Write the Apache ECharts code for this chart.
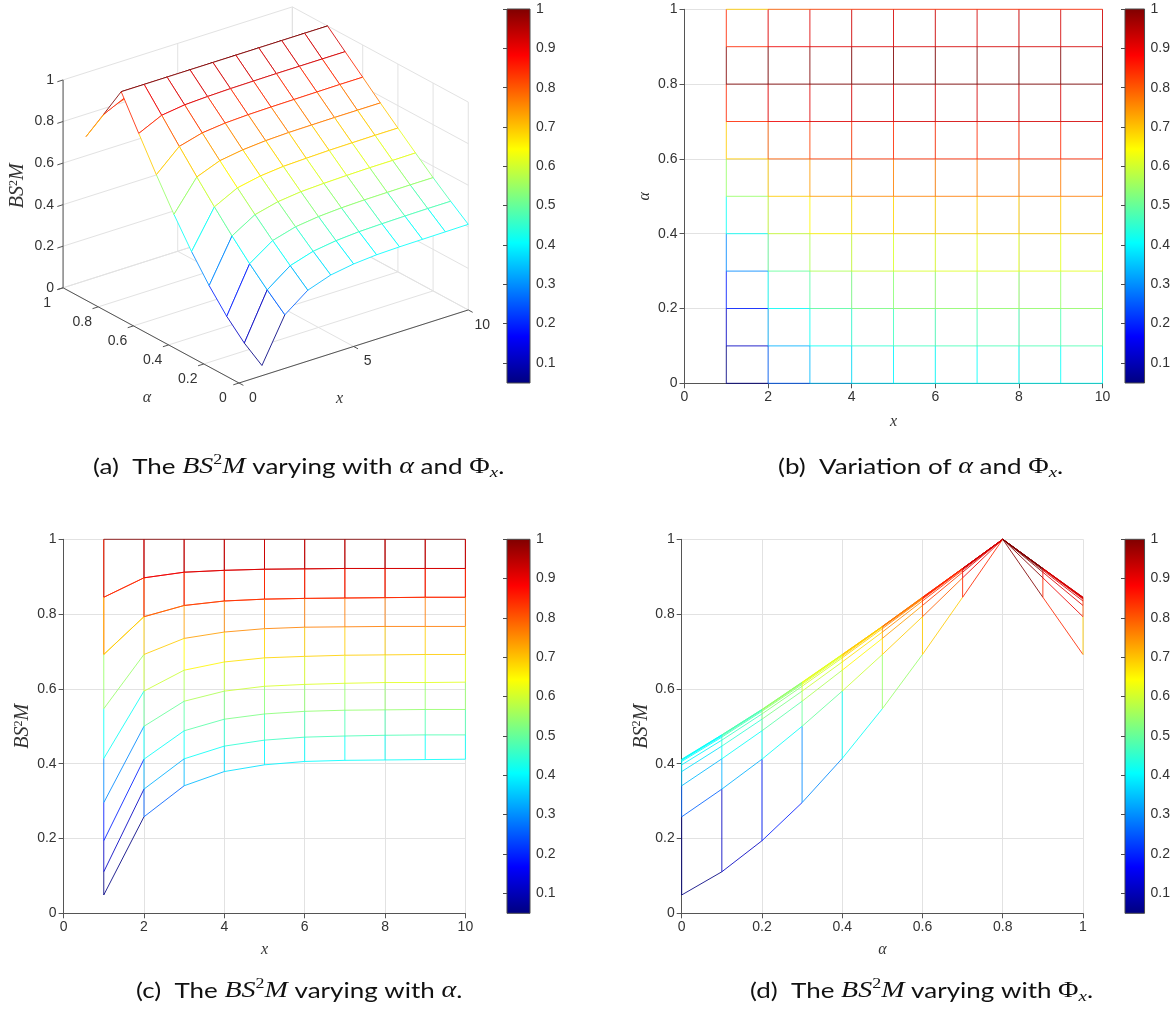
<!DOCTYPE html>
<html>
<head>
<meta charset="utf-8">
<script src="https://cdn.jsdelivr.net/npm/echarts@6/dist/echarts.min.js"></script>
<style>
html, body { margin: 0; padding: 0; background: #fff; }
#main { width: 1173px; height: 1012px; }
</style>
</head>
<body>
<div id="main"></div>
<script>
// 网格节点
var xValues = [1, 2, 3, 4, 5, 6, 7, 8, 9, 10];
var alphaValues = [0, 0.1, 0.2, 0.3, 0.4, 0.5, 0.6, 0.7, 0.8, 0.9, 1];

// BS2M, 每一行对应一个 alpha
var bsmAlpha00 = [0.049, 0.258, 0.341, 0.379, 0.397, 0.406, 0.409, 0.410, 0.411, 0.412];
var bsmAlpha01 = [0.111, 0.332, 0.413, 0.447, 0.463, 0.471, 0.474, 0.476, 0.477, 0.477];
var bsmAlpha02 = [0.194, 0.412, 0.488, 0.519, 0.533, 0.540, 0.543, 0.544, 0.545, 0.545];
var bsmAlpha03 = [0.296, 0.500, 0.567, 0.594, 0.607, 0.612, 0.615, 0.617, 0.617, 0.618];
var bsmAlpha04 = [0.414, 0.594, 0.650, 0.672, 0.683, 0.687, 0.690, 0.691, 0.692, 0.692];
var bsmAlpha05 = [0.547, 0.692, 0.735, 0.752, 0.761, 0.765, 0.766, 0.767, 0.767, 0.767];
var bsmAlpha06 = [0.692, 0.793, 0.823, 0.835, 0.840, 0.842, 0.843, 0.844, 0.845, 0.845];
var bsmAlpha07 = [0.845, 0.897, 0.912, 0.917, 0.920, 0.921, 0.922, 0.922, 0.922, 0.922];
var bsmAlpha08 = [1, 1, 1, 1, 1, 1, 1, 1, 1, 1];
var bsmAlpha09 = [0.845, 0.897, 0.912, 0.917, 0.920, 0.921, 0.922, 0.922, 0.922, 0.922];
var bsmAlpha10 = [0.692, 0.793, 0.823, 0.835, 0.840, 0.842, 0.843, 0.844, 0.845, 0.845];

// 刻度
var colorbarTicks = [0.1, 0.2, 0.3, 0.4, 0.5, 0.6, 0.7, 0.8, 0.9, 1];
var ticks3dX = [0, 5, 10];
var ticks3dAlpha = [0, 0.2, 0.4, 0.6, 0.8, 1];
var ticks3dZ = [0, 0.2, 0.4, 0.6, 0.8, 1];

var zGrid = [bsmAlpha00, bsmAlpha01, bsmAlpha02, bsmAlpha03, bsmAlpha04, bsmAlpha05,
             bsmAlpha06, bsmAlpha07, bsmAlpha08, bsmAlpha09, bsmAlpha10];

var allZ = [].concat.apply([], zGrid);
var cMin = Math.min.apply(null, allZ);
var cMax = Math.max.apply(null, allZ);

var textColor = '#333';
var axisColor = '#555';
var gridColor = '#e2e2e2';
var tickFont = 'Liberation Sans';
var mathFont = 'Liberation Serif';
var meshOpacity = 0.85;

// jet 颜色映射
function clamp01(v) { return Math.max(0, Math.min(1, v)); }
function jet(v) {
  var t = clamp01((v - cMin) / (cMax - cMin));
  var r = clamp01(1.5 - Math.abs(4 * t - 3));
  var g = clamp01(1.5 - Math.abs(4 * t - 2));
  var b = clamp01(1.5 - Math.abs(4 * t - 1));
  return 'rgb(' + Math.round(r * 255) + ',' + Math.round(g * 255) + ',' + Math.round(b * 255) + ')';
}
var jetStops = [
  { offset: 0, color: '#00007f' },
  { offset: 0.125, color: '#0000ff' },
  { offset: 0.375, color: '#00ffff' },
  { offset: 0.625, color: '#ffff00' },
  { offset: 0.875, color: '#ff0000' },
  { offset: 1, color: '#7f0000' },
];

// ---------- (a) 三维投影 ----------
var az = 37.5 * Math.PI / 180;
var el = 30 * Math.PI / 180;
var xRange = 10;
function proj(x, a, z) {
  var X = x / xRange, A = a, Z = z;
  return [
    Math.cos(az) * X - Math.sin(az) * A,
    Math.sin(el) * (Math.sin(az) * X + Math.cos(az) * A) + Math.cos(el) * Z,
  ];
}
function closeness(x, a, z) {
  return -Math.sin(az) * Math.cos(el) * (x / xRange) - Math.cos(az) * Math.cos(el) * a + Math.sin(el) * z;
}
// 投影平面在画布上的位置
var originPx = [239, 383];
var pxPerU = 289, pxPerV = 240;
var uMin = -0.8, uMax = 0.9, vMin = -0.15, vMax = 1.58;

// 背景网格线 & 坐标轴
var gridSegs = [];
ticks3dX.forEach(function(x) {
  gridSegs.push([[x, 0, 0], [x, 1, 0]]);
  gridSegs.push([[x, 1, 0], [x, 1, 1]]);
});
ticks3dAlpha.forEach(function(a) {
  gridSegs.push([[0, a, 0], [10, a, 0]]);
  gridSegs.push([[10, a, 0], [10, a, 1]]);
});
ticks3dZ.forEach(function(z) {
  gridSegs.push([[0, 1, z], [10, 1, z]]);
  gridSegs.push([[10, 0, z], [10, 1, z]]);
});

var tickLen = 0.025;
var axisSegs = [
  [[0, 1, 0], [0, 1, 1]],
  [[0, 0, 0], [0, 1, 0]],
  [[0, 0, 0], [10, 0, 0]],
];
ticks3dZ.forEach(function(z) { axisSegs.push([[0, 1, z], [-tickLen * xRange, 1, z]]); });
ticks3dAlpha.forEach(function(a) { axisSegs.push([[0, a, 0], [-tickLen * xRange, a, 0]]); });
ticks3dX.forEach(function(x) { axisSegs.push([[x, 0, 0], [x, -tickLen, 0]]); });

var labels3d = [];
ticks3dZ.forEach(function(z) { labels3d.push({ p: [0, 1, z], text: String(z), dx: -9, dy: 0, align: 'right' }); });
ticks3dAlpha.forEach(function(a) { labels3d.push({ p: [0, a, 0], text: String(a), dx: -16, dy: 15, align: 'center' }); });
ticks3dX.forEach(function(x) { labels3d.push({ p: [x, 0, 0], text: String(x), dx: 14, dy: 15, align: 'center' }); });
labels3d.push({ p: [0, 0.5, 0], text: '{i|α}', dx: -4, dy: 62, align: 'center', math: true });
labels3d.push({ p: [5, 0, 0], text: '{i|x}', dx: -14, dy: 52, align: 'center', math: true });
labels3d.push({ p: [0, 1, 0.5], text: '{b|BS}{s|2}{b|M}', dx: -45, dy: 2, align: 'center', math: true, rotate: true });

// 曲面四边形, 从远到近排序
var quads = [];
for (var i = 0; i < alphaValues.length - 1; i++) {
  for (var j = 0; j < xValues.length - 1; j++) {
    var c = (closeness(xValues[j], alphaValues[i], zGrid[i][j]) +
             closeness(xValues[j + 1], alphaValues[i], zGrid[i][j + 1]) +
             closeness(xValues[j + 1], alphaValues[i + 1], zGrid[i + 1][j + 1]) +
             closeness(xValues[j], alphaValues[i + 1], zGrid[i + 1][j])) / 4;
    var pc = proj((xValues[j] + xValues[j + 1]) / 2, (alphaValues[i] + alphaValues[i + 1]) / 2, zGrid[i][j]);
    quads.push({ i: i, j: j, c: c, u: pc[0], v: pc[1] });
  }
}
quads.sort(function(a, b) { return a.c - b.c; });

function segData(segs) {
  return segs.map(function(s, k) {
    var p = proj(s[0][0], s[0][1], s[0][2]);
    return [p[0], p[1], k];
  });
}
function segRender(segs, color, width) {
  return function(params, api) {
    var s = segs[api.value(2)];
    var p1 = api.coord(proj(s[0][0], s[0][1], s[0][2]));
    var p2 = api.coord(proj(s[1][0], s[1][1], s[1][2]));
    return {
      type: 'line',
      shape: { x1: p1[0], y1: p1[1], x2: p2[0], y2: p2[1] },
      style: { stroke: color, lineWidth: width },
    };
  };
}
function nodePx(api, i, j) {
  return api.coord(proj(xValues[j], alphaValues[i], zGrid[i][j]));
}
function quadRender(params, api) {
  var i = api.value(2), j = api.value(3);
  var a = nodePx(api, i, j), b = nodePx(api, i, j + 1);
  var cc = nodePx(api, i + 1, j + 1), d = nodePx(api, i + 1, j);
  function edge(p, q, v) {
    return { type: 'line', z2: params.dataIndex, shape: { x1: p[0], y1: p[1], x2: q[0], y2: q[1] },
             style: { stroke: jet(v), lineWidth: 1, opacity: meshOpacity } };
  }
  return {
    type: 'group',
    children: [
      { type: 'polygon', z2: params.dataIndex, shape: { points: [a, b, cc, d] }, style: { fill: '#fff', stroke: null } },
      edge(a, b, zGrid[i][j]),
      edge(a, d, zGrid[i][j]),
      edge(d, cc, zGrid[i + 1][j]),
      edge(b, cc, zGrid[i][j + 1]),
    ],
  };
}
var mathRich = {
  i: { fontFamily: mathFont, fontStyle: 'italic', fontSize: 16, color: textColor },
  b: { fontFamily: mathFont, fontStyle: 'italic', fontSize: 20, color: textColor },
  s: { fontFamily: mathFont, fontSize: 12, color: textColor, verticalAlign: 'top' },
};
function labelRender(params, api) {
  var l = labels3d[api.value(2)];
  var p = api.coord(proj(l.p[0], l.p[1], l.p[2]));
  var style = {
    text: l.text,
    fill: textColor,
    align: l.align,
    verticalAlign: 'middle',
  };
  if (l.math) {
    style.rich = mathRich;
  } else {
    style.font = '14px "' + tickFont + '"';
  }
  return {
    type: 'text',
    x: p[0] + l.dx,
    y: p[1] + l.dy,
    rotation: l.rotate ? Math.PI / 2 : 0,
    style: style,
  };
}

// ---------- 二维面板的线段 ----------
var segsB = [], segsC = [], segsD = [];
for (var i = 0; i < alphaValues.length; i++) {
  for (var j = 0; j < xValues.length; j++) {
    if (j < xValues.length - 1) segsB.push([xValues[j], alphaValues[i], xValues[j + 1], alphaValues[i], zGrid[i][j]]);
    if (i < alphaValues.length - 1) segsB.push([xValues[j], alphaValues[i], xValues[j], alphaValues[i + 1], zGrid[i][j]]);
  }
}
for (var i = alphaValues.length - 1; i >= 0; i--) {
  for (var j = 0; j < xValues.length; j++) {
    if (i < alphaValues.length - 1) segsC.push([xValues[j], zGrid[i][j], xValues[j], zGrid[i + 1][j], zGrid[i][j]]);
    if (j < xValues.length - 1) segsC.push([xValues[j], zGrid[i][j], xValues[j + 1], zGrid[i][j + 1], zGrid[i][j]]);
  }
}
for (var j = 0; j < xValues.length; j++) {
  for (var i = 0; i < alphaValues.length; i++) {
    if (j < xValues.length - 1) segsD.push([alphaValues[i], zGrid[i][j], alphaValues[i], zGrid[i][j + 1], zGrid[i][j]]);
    if (i < alphaValues.length - 1) segsD.push([alphaValues[i], zGrid[i][j], alphaValues[i + 1], zGrid[i + 1][j], zGrid[i][j]]);
  }
}
function meshSegRender(params, api) {
  var p1 = api.coord([api.value(0), api.value(1)]);
  var p2 = api.coord([api.value(2), api.value(3)]);
  return {
    type: 'line',
    z2: params.dataIndex,
    shape: { x1: p1[0], y1: p1[1], x2: p2[0], y2: p2[1] },
    style: { stroke: jet(api.value(4)), lineWidth: 1, opacity: meshOpacity },
  };
}
function colorbarRender(params, api) {
  var p0 = api.coord([0, cMax]);
  var p1 = api.coord([1, cMin]);
  return {
    type: 'rect',
    shape: { x: p0[0], y: p0[1], width: p1[0] - p0[0], height: p1[1] - p0[1] },
    style: { fill: new echarts.graphic.LinearGradient(0, 1, 0, 0, jetStops), stroke: '#4a4a4a', lineWidth: 1 },
  };
}

// ---------- 坐标轴工厂 ----------
var nameRich = {
  i: { fontFamily: mathFont, fontStyle: 'italic', fontSize: 16, color: textColor },
  b: { fontFamily: mathFont, fontStyle: 'italic', fontSize: 20, color: textColor },
  s: { fontFamily: mathFont, fontSize: 12, color: textColor, verticalAlign: 'top' },
};
function valueAxis(gridIndex, min, max, interval, name, nameGap, isY) {
  return {
    type: 'value',
    gridIndex: gridIndex,
    min: min,
    max: max,
    interval: interval,
    name: name,
    nameLocation: 'middle',
    nameGap: nameGap,
    nameRotate: isY ? 90 : 0,
    nameTextStyle: { rich: nameRich },
    axisLine: { show: true, onZero: false, lineStyle: { color: axisColor, width: 1 } },
    axisTick: { show: true, inside: false, length: 5, lineStyle: { color: axisColor } },
    axisLabel: { color: textColor, fontSize: 14, fontFamily: tickFont, margin: 7 },
    splitLine: { show: true, lineStyle: { color: gridColor, width: 1 } },
  };
}
function cbAxes(gridIndex) {
  return {
    x: { type: 'value', gridIndex: gridIndex, min: 0, max: 1, show: false },
    y: {
      type: 'value',
      gridIndex: gridIndex,
      min: cMin,
      max: cMax,
      position: 'right',
      axisLine: { show: false },
      splitLine: { show: false },
      axisTick: { show: true, inside: true, length: 4, customValues: colorbarTicks, lineStyle: { color: '#4a4a4a' } },
      axisLabel: {
        customValues: colorbarTicks,
        color: textColor,
        fontSize: 14,
        fontFamily: tickFont,
        margin: 6,
        formatter: function(v) { return String(Math.round(v * 10) / 10); },
      },
    },
  };
}

var grids = [
  { left: originPx[0] + pxPerU * uMin, top: originPx[1] - pxPerV * vMax,
    width: pxPerU * (uMax - uMin), height: pxPerV * (vMax - vMin) },
  { left: 507, top: 9, width: 23, height: 374 },
  { left: 684.5, top: 9.3, width: 418, height: 374 },
  { left: 1125, top: 9, width: 23, height: 374 },
  { left: 63.6, top: 539.3, width: 401.8, height: 374 },
  { left: 507, top: 539.3, width: 23, height: 374 },
  { left: 681.7, top: 539.3, width: 401.3, height: 374 },
  { left: 1125, top: 539.3, width: 23, height: 374 },
];

var cbA = cbAxes(1), cbB = cbAxes(3), cbC = cbAxes(5), cbD = cbAxes(7);
var xAxes = [
  { type: 'value', gridIndex: 0, min: uMin, max: uMax, show: false },
  cbA.x,
  valueAxis(2, 0, 10, 2, '{i|x}', 30, false),
  cbB.x,
  valueAxis(4, 0, 10, 2, '{i|x}', 28, false),
  cbC.x,
  valueAxis(6, 0, 1, 0.2, '{i|α}', 28, false),
  cbD.x,
];
var yAxes = [
  { type: 'value', gridIndex: 0, min: vMin, max: vMax, show: false },
  cbA.y,
  valueAxis(2, 0, 1, 0.2, '{i|α}', 32, true),
  cbB.y,
  valueAxis(4, 0, 1, 0.2, '{b|BS}{s|2}{b|M}', 30, true),
  cbC.y,
  valueAxis(6, 0, 1, 0.2, '{b|BS}{s|2}{b|M}', 30, true),
  cbD.y,
];

// 图注 (原图纵向略有压缩)
var capScaleY = 0.82;
var capRich = {
  m: { fontFamily: mathFont, fontStyle: 'italic', fontSize: 28, color: '#111', lineHeight: 34 },
  r: { fontFamily: mathFont, fontSize: 28, color: '#111', lineHeight: 34 },
  sup: { fontFamily: mathFont, fontSize: 18, color: '#111', verticalAlign: 'top', lineHeight: 34 },
  sub: { fontFamily: mathFont, fontStyle: 'italic', fontSize: 19, color: '#111', verticalAlign: 'bottom', lineHeight: 27 },
};
function caption(text, left, midY) {
  return {
    type: 'text',
    x: left,
    y: midY,
    scaleY: capScaleY,
    style: {
      text: text,
      fontFamily: 'Lato',
      fontSize: 26,
      fill: '#111',
      lineHeight: 34,
      verticalAlign: 'middle',
      rich: capRich,
    },
  };
}

var option = {
  backgroundColor: '#fff',
  animation: false,
  graphic: [
    caption('(a)  The {m|BS}{sup|2}{m|M} varying with {m|α} and {r|Φ}{sub|x}.', 93, 467),
    caption('(b)  Variation of {m|α} and {r|Φ}{sub|x}.', 778, 467),
    caption('(c)  The {m|BS}{sup|2}{m|M} varying with {m|α}.', 136, 991),
    caption('(d)  The {m|BS}{sup|2}{m|M} varying with {r|Φ}{sub|x}.', 750, 991),
  ],
  grid: grids,
  xAxis: xAxes,
  yAxis: yAxes,
  series: [
    { type: 'custom', xAxisIndex: 0, yAxisIndex: 0, data: segData(gridSegs), encode: { x: 0, y: 1 },
      renderItem: segRender(gridSegs, gridColor, 1), z: 1 },
    { type: 'custom', xAxisIndex: 0, yAxisIndex: 0,
      data: quads.map(function(q) { return [q.u, q.v, q.i, q.j]; }), encode: { x: 0, y: 1 },
      renderItem: quadRender, z: 2 },
    { type: 'custom', xAxisIndex: 0, yAxisIndex: 0, data: segData(axisSegs), encode: { x: 0, y: 1 },
      renderItem: segRender(axisSegs, axisColor, 1), z: 3 },
    { type: 'custom', xAxisIndex: 0, yAxisIndex: 0,
      data: labels3d.map(function(l, k) { var p = proj(l.p[0], l.p[1], l.p[2]); return [p[0], p[1], k]; }),
      encode: { x: 0, y: 1 }, renderItem: labelRender, z: 4 },
    { type: 'custom', xAxisIndex: 1, yAxisIndex: 1, data: [[0, cMin]], renderItem: colorbarRender },
    { type: 'custom', xAxisIndex: 2, yAxisIndex: 2, data: segsB, encode: { x: [0, 2], y: [1, 3] }, renderItem: meshSegRender },
    { type: 'custom', xAxisIndex: 3, yAxisIndex: 3, data: [[0, cMin]], renderItem: colorbarRender },
    { type: 'custom', xAxisIndex: 4, yAxisIndex: 4, data: segsC, encode: { x: [0, 2], y: [1, 3] }, renderItem: meshSegRender },
    { type: 'custom', xAxisIndex: 5, yAxisIndex: 5, data: [[0, cMin]], renderItem: colorbarRender },
    { type: 'custom', xAxisIndex: 6, yAxisIndex: 6, data: segsD, encode: { x: [0, 2], y: [1, 3] }, renderItem: meshSegRender },
    { type: 'custom', xAxisIndex: 7, yAxisIndex: 7, data: [[0, cMin]], renderItem: colorbarRender },
  ],
};

var myChart = echarts.init(document.getElementById('main'));
myChart.setOption(option);
</script>
</body>
</html>
